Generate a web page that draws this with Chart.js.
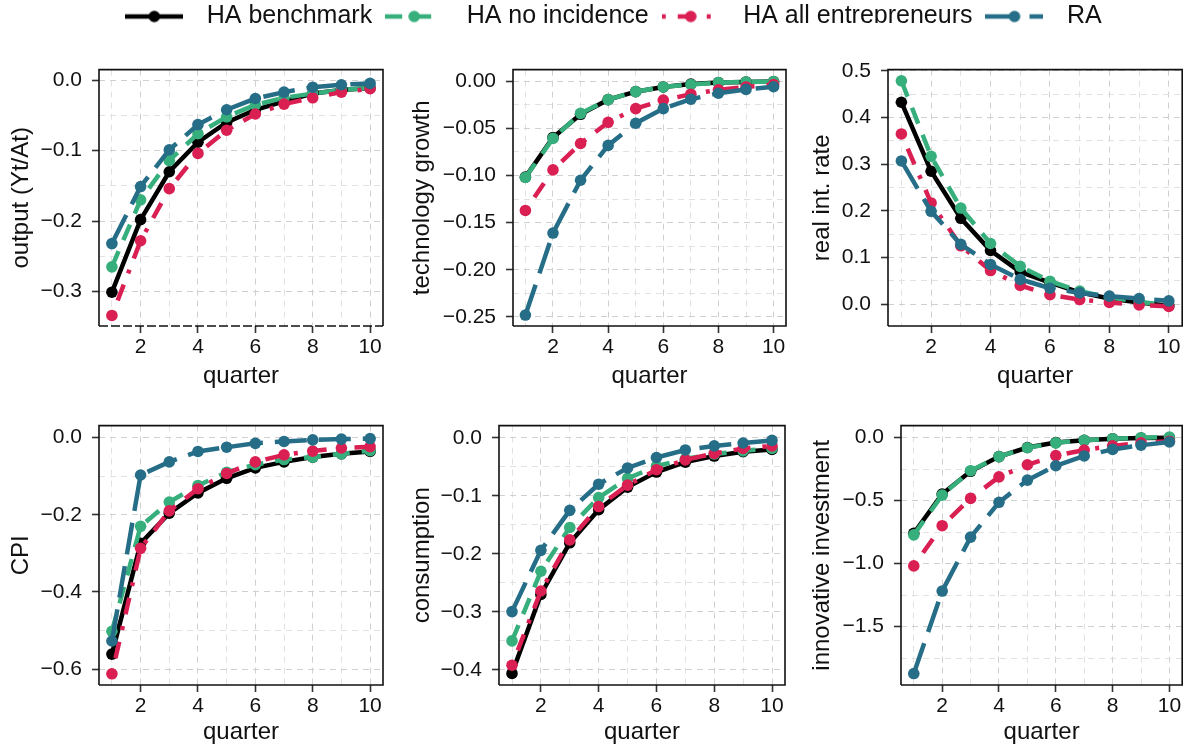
<!DOCTYPE html>
<html><head><meta charset="utf-8">
<script src="https://cdn.jsdelivr.net/npm/chart.js@4.4.1/dist/chart.umd.min.js"></script>
<style>
html,body{margin:0;padding:0;background:#fff;}
body{width:1188px;height:752px;position:relative;overflow:hidden;}
canvas{position:absolute;}
</style></head><body>
<canvas id="legend"></canvas>
<canvas id="c1"></canvas><canvas id="c2"></canvas><canvas id="c3"></canvas>
<canvas id="c4"></canvas><canvas id="c5"></canvas><canvas id="c6"></canvas>
<script>
// ---------------- data ----------------
const quarters = [1,2,3,4,5,6,7,8,9,10];
const seriesNames = ['HA benchmark','HA no incidence','HA all entrepreneurs','RA'];
const xTickLabels = [2,4,6,8,10];

const outputBench  = [-0.301,-0.198,-0.130,-0.088,-0.060,-0.042,-0.030,-0.019,-0.014,-0.011];
const outputNoInc  = [-0.265,-0.170,-0.114,-0.076,-0.052,-0.035,-0.025,-0.019,-0.014,-0.011];
const outputAllEnt = [-0.334,-0.228,-0.154,-0.104,-0.071,-0.048,-0.034,-0.025,-0.017,-0.012];
const outputRA     = [-0.232,-0.151,-0.099,-0.063,-0.042,-0.026,-0.017,-0.010,-0.0065,-0.0046];
const outputTicks  = [-0.3,-0.2,-0.1,0.0];

const techBench  = [-0.1017,-0.0596,-0.035,-0.0195,-0.011,-0.006,-0.003,-0.0014,-0.0007,-0.0003];
const techNoInc  = [-0.102,-0.0606,-0.034,-0.0195,-0.011,-0.006,-0.0034,-0.0014,-0.0007,-0.0003];
const techAllEnt = [-0.137,-0.094,-0.066,-0.0435,-0.029,-0.020,-0.0137,-0.009,-0.006,-0.0034];
const techRA     = [-0.248,-0.161,-0.105,-0.068,-0.0445,-0.029,-0.019,-0.0127,-0.0086,-0.0058];
const techTicks  = [-0.25,-0.20,-0.15,-0.10,-0.05,0.00];

const rateBench  = [0.433,0.285,0.184,0.115,0.069,0.046,0.025,0.012,0.0035,-0.0035];
const rateNoInc  = [0.479,0.317,0.206,0.130,0.081,0.049,0.028,0.014,0.005,-0.0035];
const rateAllEnt = [0.365,0.217,0.125,0.072,0.040,0.020,0.0097,0.0035,-0.002,-0.005];
const rateRA     = [0.307,0.199,0.128,0.085,0.053,0.034,0.024,0.017,0.012,0.007];
const rateTicks  = [0.0,0.1,0.2,0.3,0.4,0.5];

const cpiBench  = [-0.561,-0.274,-0.196,-0.1435,-0.1055,-0.0785,-0.063,-0.0506,-0.042,-0.036];
const cpiNoInc  = [-0.502,-0.230,-0.167,-0.124,-0.090,-0.070,-0.057,-0.0506,-0.042,-0.034];
const cpiAllEnt = [-0.612,-0.287,-0.190,-0.1325,-0.093,-0.063,-0.0447,-0.035,-0.027,-0.0236];
const cpiRA     = [-0.527,-0.097,-0.063,-0.036,-0.025,-0.015,-0.010,-0.006,-0.004,-0.0025];
const cpiTicks  = [-0.6,-0.4,-0.2,0.0];

const consBench  = [-0.406,-0.270,-0.181,-0.124,-0.085,-0.059,-0.042,-0.0315,-0.024,-0.020];
const consNoInc  = [-0.350,-0.230,-0.1545,-0.103,-0.070,-0.049,-0.0365,-0.028,-0.0225,-0.0185];
const consAllEnt = [-0.392,-0.264,-0.176,-0.1185,-0.0815,-0.055,-0.038,-0.027,-0.0185,-0.014];
const consRA     = [-0.2995,-0.194,-0.125,-0.080,-0.052,-0.034,-0.021,-0.014,-0.009,-0.0045];
const consTicks  = [-0.4,-0.3,-0.2,-0.1,0.0];

const invBench  = [-0.759,-0.448,-0.267,-0.150,-0.078,-0.039,-0.021,-0.008,-0.003,0.0];
const invNoInc  = [-0.772,-0.456,-0.262,-0.150,-0.080,-0.041,-0.021,-0.008,0.0,0.005];
const invAllEnt = [-1.018,-0.699,-0.482,-0.311,-0.215,-0.142,-0.098,-0.065,-0.041,-0.028];
const invRA     = [-1.873,-1.218,-0.790,-0.513,-0.337,-0.223,-0.145,-0.093,-0.060,-0.034];
const invTicks  = [-1.5,-1.0,-0.5,0.0];

// ---------------- styles ----------------
const FONT = "'Liberation Sans', Arial, Helvetica, sans-serif";
Chart.defaults.font.family = FONT;
Chart.defaults.animation = false;
const colors = ['#000000','#36AF7C','#DA1F53','#266E87'];
const dashes = [[], [17,12], [4,12,17,12], [32,12]];
const orders = [4,3,2,1];
const LINE_W = 4.5, PT_R = 5.8;

const panels = [
  {id:'c1', title:'output (Yt/At)', series:[outputBench,outputNoInc,outputAllEnt,outputRA], ticks:outputTicks, step:0.1, dec:1, range:[-0.349,0.015],
   box:{left:7, top:47, width:384, height:344}, yW:92, xH:65, padR:8, dashedBottom:true},
  {id:'c2', title:'technology growth', series:[techBench,techNoInc,techAllEnt,techRA], ticks:techTicks, step:0.05, dec:2, range:[-0.2596,0.0124],
   box:{left:408, top:47, width:386, height:344}, yW:105, xH:65, padR:8},
  {id:'c3', title:'real int. rate', series:[rateBench,rateNoInc,rateAllEnt,rateRA], ticks:rateTicks, step:0.1, dec:1, range:[-0.047,0.503],
   box:{left:808, top:47, width:380, height:344}, yW:80, xH:65, padR:5},
  {id:'c4', title:'CPI', series:[cpiBench,cpiNoInc,cpiAllEnt,cpiRA], ticks:cpiTicks, step:0.2, dec:1, range:[-0.641,0.031],
   box:{left:7, top:403, width:384, height:344}, yW:92, xH:62, padR:8},
  {id:'c5', title:'consumption', series:[consBench,consNoInc,consAllEnt,consRA], ticks:consTicks, step:0.1, dec:1, range:[-0.426,0.021],
   box:{left:408, top:403, width:385, height:344}, yW:91, xH:62, padR:8},
  {id:'c6', title:'innovative investment', series:[invBench,invNoInc,invAllEnt,invRA], ticks:invTicks, step:0.5, dec:1, range:[-1.964,0.096],
   box:{left:808, top:403, width:380, height:344}, yW:93, xH:62, padR:3}
];

function fmt(v, d){
  const a = Math.abs(v) < 1e-9 ? 0 : v;
  return (a < 0 ? '\u2212' : '') + Math.abs(a).toFixed(d);
}
function near(a,b){ return Math.abs(a-b) < 1e-7; }

const borderPlugin = {
  id:'panelBorder',
  afterDatasetsDraw(chart, args, opts){
    const {ctx, chartArea:a} = chart;
    ctx.save();
    ctx.strokeStyle = '#111';
    ctx.lineWidth = 1.6;
    ctx.setLineDash([]);
    ctx.beginPath();
    ctx.moveTo(a.left, a.bottom); ctx.lineTo(a.left, a.top); ctx.lineTo(a.right, a.top); ctx.lineTo(a.right, a.bottom);
    if (!opts.dashedBottom) ctx.lineTo(a.left, a.bottom);
    ctx.stroke();
    if (opts.dashedBottom) {
      ctx.setLineDash([9,3]);
      ctx.beginPath(); ctx.moveTo(a.left, a.bottom); ctx.lineTo(a.right, a.bottom); ctx.stroke();
    }
    ctx.restore();
  }
};

panels.forEach(p => {
  const cv = document.getElementById(p.id);
  cv.style.left = p.box.left + 'px'; cv.style.top = p.box.top + 'px';
  cv.width = p.box.width; cv.height = p.box.height;
  cv.style.width = p.box.width + 'px'; cv.style.height = p.box.height + 'px';

  const yMajor = p.ticks;
  const yAll = [];
  const lo = Math.min(...yMajor) - p.step, hi = Math.max(...yMajor) + p.step;
  for (let v = lo; v <= hi + 1e-9; v += p.step/2) {
    const r = Math.round(v*10000)/10000;
    if (r >= p.range[0] && r <= p.range[1]) yAll.push(r);
  }
  const xAll = quarters.slice();
  const isYMajor = v => yMajor.some(m => near(m, v));
  const isXMajor = v => xTickLabels.some(m => near(m, v));

  new Chart(cv, {
    type:'line',
    data:{
      labels: quarters,
      datasets: p.series.map((s,i) => ({
        label: seriesNames[i],
        data: quarters.map((q,k) => ({x:q, y:s[k]})),
        borderColor: colors[i], backgroundColor: colors[i],
        pointBackgroundColor: colors[i], pointBorderWidth: 0, pointRadius: PT_R,
        borderWidth: LINE_W, borderDash: dashes[i], tension: 0, order: orders[i]
      }))
    },
    options:{
      responsive:false, animation:false, events:[],
      layout:{padding:{left:0, top:16, right:p.padR, bottom:0}},
      plugins:{legend:{display:false}, tooltip:{enabled:false}, panelBorder:{dashedBottom:!!p.dashedBottom}},
      scales:{
        x:{
          type:'linear', min:0.55, max:10.45,
          afterBuildTicks: s => { s.ticks = xAll.map(v => ({value:v})); },
          afterFit: s => { s.height = p.xH; },
          border:{display:false, dash:[6,5]},
          grid:{
            color: c => isXMajor(c.tick.value) ? '#d0d0d0' : '#e1e1e1',
            lineWidth:1, tickLength:7, drawTicks:true,
            tickColor: c => isXMajor(c.tick.value) ? '#333' : 'rgba(0,0,0,0)',
            tickWidth:1.6
          },
          ticks:{
            autoSkip:false, maxRotation:0, minRotation:0, padding:2,
            color:'#111', font:{size:21},
            callback: v => isXMajor(v) ? String(v) : ''
          },
          title:{display:true, text:'quarter', color:'#111', font:{size:24}, padding:{top:0,bottom:0}}
        },
        y:{
          type:'linear', min:p.range[0], max:p.range[1],
          afterBuildTicks: s => { s.ticks = yAll.map(v => ({value:v})); },
          afterFit: s => { s.width = p.yW; },
          border:{display:false, dash:[6,5]},
          grid:{
            color: c => isYMajor(c.tick.value) ? '#d0d0d0' : '#e1e1e1',
            lineWidth:1, tickLength:7, drawTicks:true,
            tickColor: c => isYMajor(c.tick.value) ? '#333' : 'rgba(0,0,0,0)',
            tickWidth:1.6
          },
          ticks:{
            autoSkip:false, padding:10, color:'#111', font:{size:21},
            callback: v => isYMajor(v) ? fmt(v, p.dec) : ''
          },
          title:{display:true, text:p.title, color:'#111', font:{size:24}, padding:{top:0,bottom:0}}
        }
      }
    },
    plugins:[borderPlugin]
  });
});

// ---------------- legend ----------------
function makeSwatch(i){
  const c = document.createElement('canvas');
  c.width = 58; c.height = 16;
  const g = c.getContext('2d');
  g.strokeStyle = colors[i]; g.lineWidth = LINE_W; g.setLineDash(dashes[i]);
  g.beginPath(); g.moveTo(0,8); g.lineTo(58,8); g.stroke();
  g.setLineDash([]);
  g.fillStyle = colors[i];
  g.beginPath(); g.arc(29,8,PT_R,0,Math.PI*2); g.fill();
  return c;
}
const swatches = seriesNames.map((n,i) => makeSwatch(i));
const lg = document.getElementById('legend');
lg.width = 1188; lg.height = 42; lg.style.left = '0px'; lg.style.top = '2px';
lg.style.width = '1188px'; lg.style.height = '42px';
new Chart(lg, {
  type:'line',
  data:{labels:[], datasets: seriesNames.map((n,i) => ({label:n, data:[], borderColor:colors[i], backgroundColor:colors[i]}))},
  options:{
    responsive:false, animation:false, events:[],
    layout:{padding:{left:28, top:0, right:0, bottom:0}},
    scales:{x:{display:false}, y:{display:false}},
    plugins:{
      tooltip:{enabled:false},
      legend:{
        display:true, position:'top', align:'center',
        labels:{
          usePointStyle:true, pointStyleWidth:80, padding:2,
          color:'#111', font:{size:25},
          generateLabels: chart => seriesNames.map((n,i) => ({
            text:n, pointStyle:swatches[i], fillStyle:colors[i], strokeStyle:colors[i],
            lineWidth:0, hidden:false, datasetIndex:i, fontColor:'#111'
          }))
        }
      }
    }
  }
});
</script>
</body></html>
